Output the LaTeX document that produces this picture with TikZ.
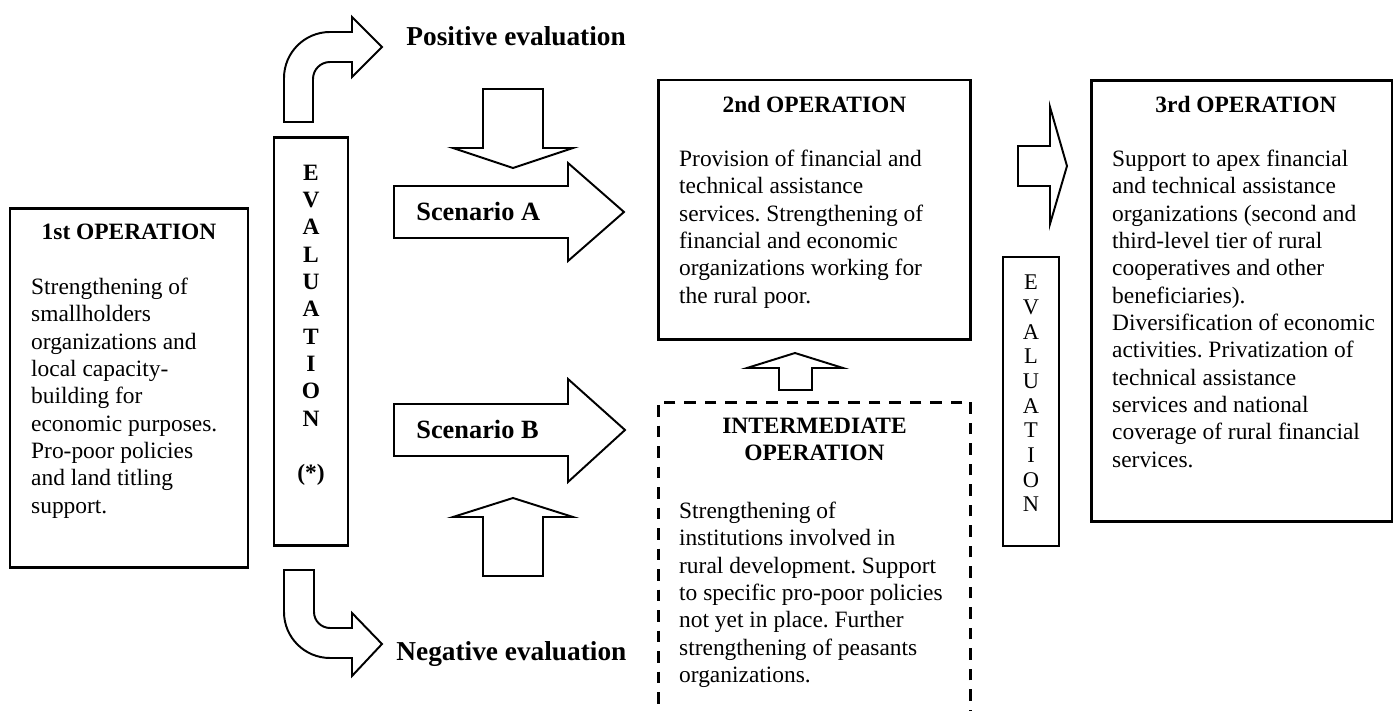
\documentclass[tikz,border=0pt]{standalone}
\usepackage{fontspec}
\setmainfont{Liberation Serif}
\usetikzlibrary{positioning}
\frenchspacing

\begin{document}
\begin{tikzpicture}
[
    x = 0.018cm, y = -0.018cm,
    opbox/.style     = {draw,
                       line width=1.5pt,
                       inner sep=0pt},
    dashbox/.style   = {opbox,
                       dash pattern=on 6pt off 4.5pt},
    evalbox/.style   = {draw,
                       inner sep=0pt},
    optitle/.style   = {inner sep=0pt,
                       align=center,
                       font=\fontsize{12}{14}\selectfont\bfseries},
    optext/.style    = {inner sep=0pt,
                       align=left,
                       font=\fontsize{12}{14}\selectfont},
    bigarr/.style    = {draw,
                       fill=white,
                       line width=1pt,
                       line join=miter},
    evallabel/.style = {inner sep=0pt,
                       anchor=base west,
                       font=\fontsize{14}{17}\selectfont\bfseries},
    scenlabel/.style = {inner sep=0pt,
                       anchor=base west,
                       font=\fontsize{13.5}{16}\selectfont\bfseries}
]

\useasboundingbox (0,0) rectangle (1394,711);

% first operation
\node (op1) [opbox, minimum width=4.284cm, minimum height=6.48cm] at (129,388) {};
\node (op1title) [optitle, below=0.31cm of op1.north] {1st OPERATION};
\node (op1text) [optext, below right=1.28cm and 0.4cm of op1.north west] {
Strengthening of\\ smallholders\\ organizations and\\ local capacity-\\
building for\\ economic purposes.\\ Pro-poor policies\\ and land titling\\ support.
};

% evaluation after the first operation
\node (eval1) [evalbox, line width=1.5pt, minimum width=1.332cm, minimum height=7.362cm] at (311,341.5) {};
\node (eval1text) [optitle, below=0.52cm of eval1.north] {
E\\ V\\ A\\ L\\ U\\ A\\ T\\ I\\ O\\ N\\[14pt] (*)
};

\draw[bigarr] (284,122) -- (284,78) .. controls (284,52.6) and (304.6,32) .. (330,32)
    -- (352,32) -- (352,17) -- (382,47) -- (352,77) -- (352,62) -- (330,62)
    .. controls (320.6,62) and (313,69.6) .. (313,79) -- (313,122) -- cycle;
\node (posev) [evallabel] at (406,46) {Positive evaluation};

\draw[bigarr] (284,570) -- (284,612) .. controls (284,637.4) and (304.6,658) .. (330,658)
    -- (352,658) -- (352,676) -- (382,644) -- (352,613) -- (352,628) -- (330,628)
    .. controls (321.2,628) and (314,620.8) .. (314,612) -- (314,570) -- cycle;
\node (negev) [evallabel] at (396,661) {Negative evaluation};

% scenarios
\draw[bigarr] (483,89) -- (543,89) -- (543,148) -- (573,148) -- (513,168) -- (453,148) -- (483,148) -- cycle;
\draw[bigarr] (394,186) -- (568,186) -- (568,163) -- (624,212) -- (568,261) -- (568,238) -- (394,238) -- cycle;
\node (scnA) [scenlabel] at (416,221) {Scenario A};

\draw[bigarr] (394,404) -- (568,404) -- (568,379) -- (625,430) -- (568,482) -- (568,456) -- (394,456) -- cycle;
\node (scnB) [scenlabel] at (416,439) {Scenario B};
\draw[bigarr] (483,576) -- (543,576) -- (543,517) -- (573,517) -- (513,498) -- (453,517) -- (483,517) -- cycle;

% second operation
\node (op2) [opbox, minimum width=5.634cm, minimum height=4.68cm] at (814.5,210) {};
\node (op2title) [optitle, below=0.31cm of op2.north] {2nd OPERATION};
\node (op2text) [optext, below right=1.28cm and 0.4cm of op2.north west] {
Provision of financial and\\ technical assistance\\ services. Strengthening of\\
financial and economic\\ organizations working for\\ the rural poor.
};

% intermediate operation
\node (opi) [dashbox, minimum width=5.634cm, minimum height=5.652cm] at (814.5,559) {};
\node (opititle) [optitle, below=0.31cm of opi.north] {INTERMEDIATE\\ OPERATION};
\node (opitext) [optext, below right=1.818cm and 0.4cm of opi.north west] {
Strengthening of\\ institutions involved in\\ rural development. Support\\
to specific pro-poor policies\\ not yet in place. Further\\ strengthening of peasants\\ organizations.
};
\draw[bigarr] (779,390) -- (812,390) -- (812,368) -- (843,368) -- (795,353) -- (747,368) -- (779,368) -- cycle;

% evaluation after the second operation
\draw[bigarr] (1018,146) -- (1050,146) -- (1050,107) -- (1067,166) -- (1050,224) -- (1050,186) -- (1018,186) -- cycle;
\node (eval2) [evalbox, line width=1pt, minimum width=1.008cm, minimum height=5.202cm] at (1031,401.5) {};
\node (eval2text) [optext, align=center, font=\fontsize{11.5}{12.65}\selectfont, below=0.333cm of eval2.north] {
E\\ V\\ A\\ L\\ U\\ A\\ T\\ I\\ O\\ N
};

% third operation
\node (op3) [opbox, minimum width=5.418cm, minimum height=7.956cm] at (1241.5,301) {};
\node (op3title) [optitle, below=0.31cm of op3.north, xshift=0.08cm] {3rd OPERATION};
\node (op3text) [optext, below right=1.28cm and 0.4cm of op3.north west] {
Support to apex financial\\ and technical assistance\\ organizations (second and\\
third-level tier of rural\\ cooperatives and other\\ beneficiaries).\\
Diversification of economic\\ activities. Privatization of\\ technical assistance\\
services and national\\ coverage of rural financial\\ services.
};

\end{tikzpicture}
\end{document}
